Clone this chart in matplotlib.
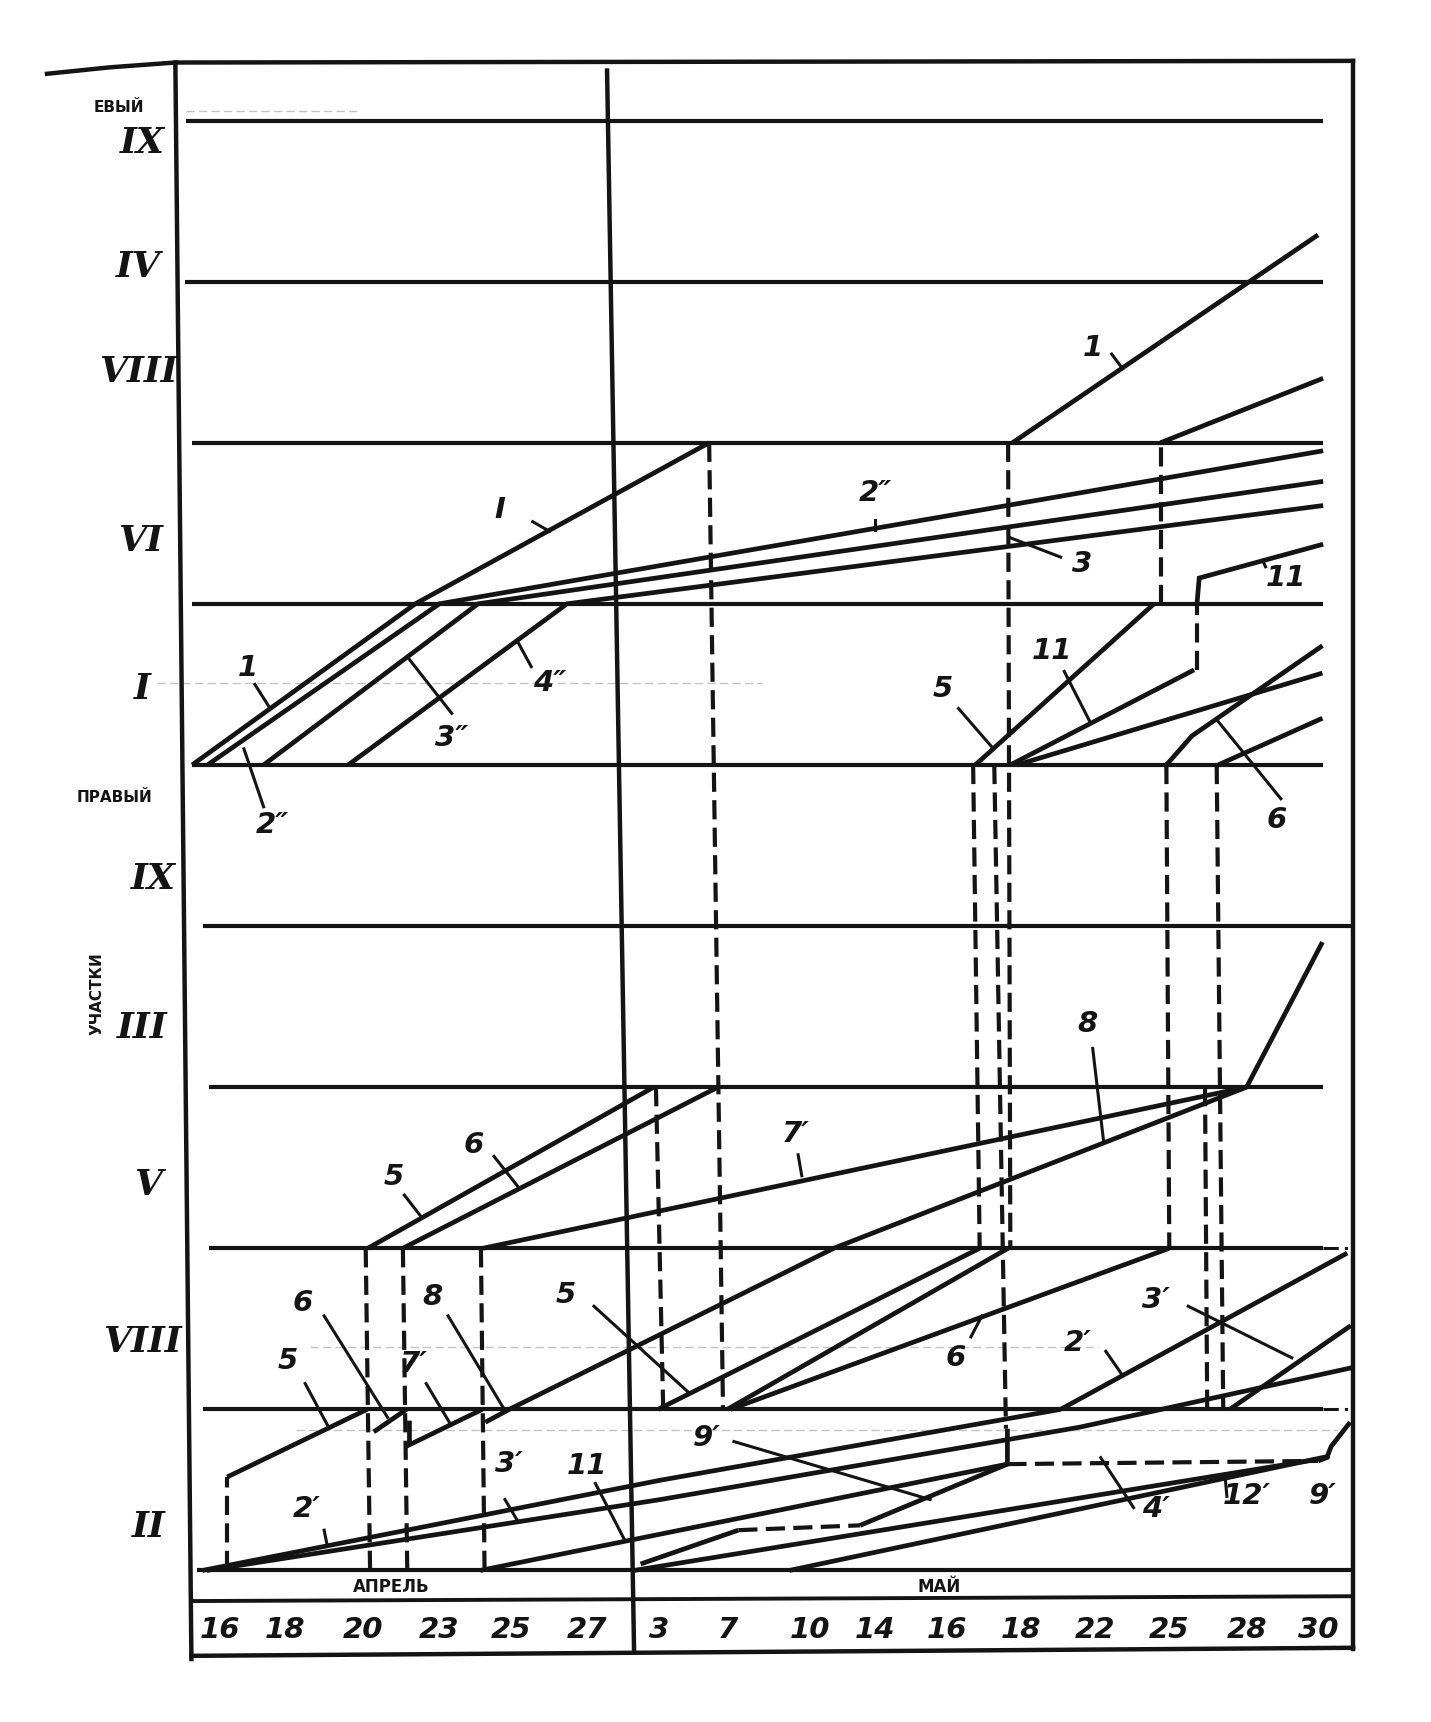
import matplotlib
matplotlib.use('Agg')
import matplotlib.pyplot as plt

# Units: x = date column (0 = left frame, 16 = right frame); y = section band (0 = bottom of II, right bank)
dates = ['16', '18', '20', '23', '25', '27', '3', '7', '10', '14', '16', '18', '22', '25', '28', '30']
date_x = [0.56, 1.46, 2.52, 3.57, 4.55, 5.60, 6.58, 7.53, 8.65, 9.55, 10.53, 11.55, 12.56, 13.58, 14.64, 15.62]
months = ['АПРЕЛЬ', 'МАЙ']
month_x = [2.91, 10.42]

sections = ['IX', 'IV', 'VIII', 'VI', 'I', 'IX', 'III', 'V', 'VIII', 'II']
section_x = [-0.50, -0.56, -0.56, -0.53, -0.50, -0.35, -0.50, -0.42, -0.50, -0.42]
section_y = [8.86, 8.09, 7.44, 6.39, 5.47, 4.29, 3.37, 2.39, 1.42, 0.27]

band_y = [0, 1, 2, 3, 4, 5, 6, 7, 8, 9]
band_x0 = [0.25, 0.33, 0.41, 0.41, 0.33, 0.18, 0.18, 0.18, 0.08, 0.10]
band_x1 = [16.10, 15.69, 15.69, 15.69, 16.10, 15.69, 15.69, 15.69, 15.69, 15.69]

# ---- solid work lines (x list, y list) ----
# left bank (upper part)
u1_i = ([0.18, 3.24, 7.27], [5, 6, 7])
u2pp = ([0.39, 3.57, 15.69], [5, 6, 6.95])
u3pp = ([1.16, 4.10, 15.69], [5, 6, 6.76])
u4pp = ([2.32, 5.32, 15.69], [5, 6, 6.61])
u1_viii = ([11.43, 15.62], [7, 8.29])
u5_i = ([10.92, 13.37], [5, 6])
u5_viii = ([13.46, 15.69], [7, 7.40])
u11_i = ([11.40, 13.92], [5, 5.59])
u11_vi = ([13.96, 13.99, 15.69], [6.0, 6.16, 6.37])
ua_i = ([11.49, 15.68], [5, 5.57])
u6_i = ([13.54, 13.89, 15.68], [5, 5.18, 5.74])
ub_i = ([14.25, 15.68], [5, 5.29])
# right bank (lower part)
r5_v = ([2.59, 6.51], [2, 3])
r6_v = ([3.07, 7.39], [2, 3])
r7p_v = ([4.17, 14.64], [2, 3])
r8 = ([4.20, 4.53, 8.98, 14.64], [0.92, 1, 2, 3])
r_iii = ([14.64, 15.68], [3, 3.90])
r5_viii = ([6.57, 10.98], [1, 2])
rc_viii = ([7.52, 11.37], [1, 2])
r6_viii = ([7.56, 13.58], [1, 2])
r2p_viii = ([12.09, 16.02], [1, 1.97])
r3p_viii = ([14.41, 16.07], [1, 1.52])
r5_ii = ([0.66, 2.58], [0.58, 1])
r6_ii = ([2.67, 3.12], [0.86, 1])
r7p_ii = ([3.16, 3.16, 4.16], [0.93, 0.78, 1])
r2p_ii = ([0.32, 6.60, 12.09], [0, 0.56, 1])
r3p_ii = ([0.38, 6.60, 12.36, 16.10], [0, 0.44, 0.89, 1.26])
r11_ii = ([4.13, 6.87, 11.36], [0, 0.25, 0.66])
r9p_a = ([6.33, 7.67], [0.04, 0.25])
r9p_b = ([9.34, 11.36, 11.36], [0.28, 0.66, 0.88])
r9p_c = ([15.62, 15.74, 15.80, 16.06], [0.68, 0.70, 0.77, 0.92])
rd_ii = ([6.24, 15.62], [0, 0.69])
r12p = ([8.37, 15.78], [0, 0.71])
solid_lines = [u1_i, u2pp, u3pp, u4pp, u1_viii, u5_i, u5_viii, u11_i, u11_vi, ua_i, u6_i, ub_i,
               r5_v, r6_v, r7p_v, r8, r_iii, r5_viii, rc_viii, r6_viii, r2p_viii, r3p_viii,
               r5_ii, r6_ii, r7p_ii, r2p_ii, r3p_ii, r11_ii, r9p_a, r9p_b, r9p_c, rd_ii, r12p]

# ---- dashed transfers (x0, y0, x1, y1) ----
dash_x0 = [7.27, 11.37, 13.46, 10.89, 11.18, 13.54, 14.23, 14.07, 6.54, 2.56, 3.07, 4.14, 0.66, 13.96, 7.67, 11.36]
dash_y0 = [7, 7, 6, 5, 5, 5, 5, 3, 3, 2, 2, 2, 0, 5.59, 0.25, 0.66]
dash_x1 = [7.46, 11.40, 13.46, 10.98, 11.34, 13.58, 14.32, 14.10, 6.64, 2.62, 3.13, 4.19, 0.66, 13.96, 9.34, 15.62]
dash_y1 = [1, 2, 7, 2, 0.88, 2, 1, 1, 1, 0, 0, 0, 0.58, 6.0, 0.28, 0.68]

# ---- label texts and their leader lines ----
lab_text = ['1', 'I', '2″', '3', '11', '1', '2″', '3″', '4″', '11', '5', '6',
            '6', '5', '6', '8', '7′', '5', '5', '7′', '8', '6', '2′', '3′',
            '9′', '2′', '3′', '11', '4′', '12′', '9′']
lab_x = [12.53, 4.40, 9.55, 12.38, 15.18, 0.95, 1.28, 3.74, 5.08, 11.97, 10.47, 15.05,
         4.04, 2.94, 1.70, 3.48, 3.22, 1.49, 5.30, 8.46, 12.46, 10.65, 12.32, 13.40,
         7.24, 1.75, 4.52, 5.59, 13.40, 14.64, 15.69]
lab_y = [7.59, 6.58, 6.69, 6.25, 6.16, 5.60, 4.63, 5.17, 5.51, 5.71, 5.47, 4.66,
         2.64, 2.44, 1.66, 1.70, 1.28, 1.30, 1.71, 2.71, 3.39, 1.32, 1.41, 1.68,
         0.82, 0.38, 0.66, 0.65, 0.38, 0.46, 0.46]
lead_x0 = [12.79, 4.85, 9.55, 12.09, 14.90, 1.04, 1.16, 3.74, 4.83, 12.14, 10.69, 15.11,
           4.32, 3.09, 1.99, 3.69, 3.39, 1.73, 5.69, 8.49, 12.53, 10.86, 12.71, 13.84,
           7.61, 1.99, 4.47, 5.71, 13.09, 14.37]
lead_y0 = [7.55, 6.51, 6.52, 6.29, 6.23, 5.50, 4.74, 5.32, 5.61, 5.58, 5.35, 4.79,
           2.57, 2.33, 1.58, 1.58, 1.16, 1.16, 1.64, 2.58, 3.24, 1.45, 1.36, 1.64,
           0.80, 0.25, 0.44, 0.54, 0.39, 0.46]
lead_x1 = [12.94, 5.08, 9.55, 11.40, 14.86, 1.25, 0.89, 3.15, 4.65, 12.49, 11.15, 14.25,
           4.67, 3.33, 2.86, 4.46, 3.72, 2.05, 7.00, 8.54, 12.68, 11.01, 12.94, 15.26,
           10.30, 2.03, 4.64, 6.11, 12.64, 14.35]
lead_y1 = [7.46, 6.45, 6.46, 6.41, 6.27, 5.35, 5.10, 5.66, 5.76, 5.27, 5.11, 5.27,
           2.37, 2.19, 0.95, 1.00, 0.91, 0.89, 1.10, 2.45, 2.66, 1.58, 1.21, 1.32,
           0.44, 0.16, 0.31, 0.19, 0.70, 0.56]

# faint guide lines (y, x0, x1)
guide_y = [9.06, 5.51, 1.39, 0.87]
guide_x0 = [0.10, -0.30, 1.80, 1.60]
guide_x1 = [2.50, 8.00, 12.60, 15.90]

INK = '#141414'
fig = plt.figure(figsize=(14.31, 17.22), dpi=100)
fig.patch.set_facecolor('white')
ax = fig.add_axes([0, 0, 1, 1])
ax.set_xlim(-2.455, 17.169)
ax.set_ylim(-0.9407, 9.748)
ax.axis('off')

# faint guides
for gy, gx0, gx1 in zip(guide_y, guide_x0, guide_x1):
    ax.plot([gx0, gx1], [gy, gy], color='#c4c4c4', lw=1.0, ls=(0, (6, 3)), zorder=1)

# frame
ax.plot([-1.81, -0.95, -0.05, 15.99, 16.10], [9.29, 9.33, 9.36, 9.37, 9.37], color=INK, lw=3.2, zorder=3)
ax.plot([-0.05, 0.17], [9.36, -0.55], color=INK, lw=3.2, zorder=3)
ax.plot([16.10, 16.10], [9.37, -0.49], color=INK, lw=3.2, zorder=3)
ax.plot([0.17, 16.10], [-0.53, -0.48], color=INK, lw=3.2, zorder=3)
ax.plot([0.17, 16.10], [-0.19, -0.16], color=INK, lw=2.8, zorder=3)
ax.plot([5.87, 6.24], [9.31, -0.49], color=INK, lw=3.2, zorder=3)

# section boundaries
for by, bx0, bx1 in zip(band_y, band_x0, band_x1):
    ax.plot([bx0, bx1], [by, by], color=INK, lw=3.0, zorder=3, solid_capstyle='butt')
for by in [1, 2]:
    ax.plot([15.69, 16.10], [by, by], color=INK, lw=2.2, ls=(0, (5, 2, 1, 2)), zorder=3)

# work lines
for xs, ys in solid_lines:
    ax.plot(xs, ys, color=INK, lw=3.4, zorder=4, solid_joinstyle='miter', solid_capstyle='butt')

# dashed transfers
for x0, y0, x1, y1 in zip(dash_x0, dash_y0, dash_x1, dash_y1):
    ax.plot([x0, x1], [y0, y1], color=INK, lw=3.0, ls=(0, (4.6, 2.0)), zorder=4)

# leaders and labels
for x0, y0, x1, y1 in zip(lead_x0, lead_y0, lead_x1, lead_y1):
    ax.plot([x0, x1], [y0, y1], color=INK, lw=2.2, zorder=5)
for t, x, y in zip(lab_text, lab_x, lab_y):
    ax.text(x, y, t, fontsize=21, fontstyle='italic', fontweight='bold', color=INK,
            ha='center', va='center', family='DejaVu Sans', zorder=6)

# axis labels
for t, x, y in zip(sections, section_x, section_y):
    ax.text(x, y, t, fontsize=26, fontstyle='italic', fontweight='bold', color=INK,
            ha='center', va='center', family='DejaVu Serif')
ax.text(-0.83, 9.08, 'ЕВЫЙ', fontsize=11, fontweight='bold', color=INK, ha='center', va='center')
ax.text(-0.89, 4.80, 'ПРАВЫЙ', fontsize=11, fontweight='bold', color=INK, ha='center', va='center')
ax.text(-1.13, 3.58, 'УЧАСТКИ', fontsize=11, fontweight='bold', color=INK, ha='center', va='center', rotation=90)
for t, x in zip(months, month_x):
    ax.text(x, -0.10, t, fontsize=12, fontweight='bold', color=INK, ha='center', va='center')
for t, x in zip(dates, date_x):
    ax.text(x, -0.37, t, fontsize=21, fontstyle='italic', fontweight='bold', color=INK,
            ha='center', va='center', family='DejaVu Sans')

fig.savefig('out.png', dpi=100, facecolor='white')
